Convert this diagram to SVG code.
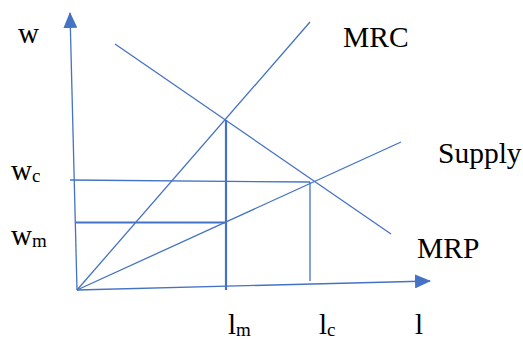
<svg xmlns="http://www.w3.org/2000/svg" width="523" height="339" viewBox="0 0 523 339">
<style>
.ln{stroke:#4472C4;stroke-width:1.3;fill:none}
.thk{stroke:#4472C4;stroke-width:2.2;fill:none}
.t{font-family:"Liberation Serif","Times New Roman",serif;fill:#000}
.big{font-size:29.5px}
.mid{font-size:29px}
.sub{font-size:19px}
</style>
<defs>
<marker id="ah" markerWidth="16" markerHeight="14" refX="15" refY="7" orient="auto" markerUnits="userSpaceOnUse">
<path d="M0,0 L16,7 L0,14 Z" fill="#4472C4"/>
</marker>
</defs>
<rect width="523" height="339" fill="#fff"/>
<g id="connectors">
<line id="y-axis" class="ln" x1="77" y1="290" x2="70" y2="13" marker-end="url(#ah)"/>
<line id="x-axis" class="ln" x1="77" y1="290" x2="430" y2="281" marker-end="url(#ah)"/>
<line id="mrc" class="ln" x1="77" y1="290" x2="310" y2="22"/>
<line id="mrp" class="ln" x1="115" y1="44" x2="391" y2="234"/>
<line id="supply" class="ln" x1="77" y1="290" x2="401" y2="142"/>
<line id="v-lm" class="thk" x1="226" y1="120" x2="226" y2="290"/>
<line id="v-lc" class="ln" x1="310" y1="182" x2="310" y2="281"/>
<line id="h-wc" class="ln" x1="70" y1="180" x2="310" y2="182"/>
<line id="h-wm" class="thk" x1="76" y1="222.5" x2="226" y2="222.5"/>
</g>
<g id="label-w"><text class="t mid" x="18" y="43">w</text></g>
<g id="label-mrc"><text class="t big" x="343" y="47">MRC</text></g>
<g id="label-supply"><text class="t big" x="438" y="163">Supply</text></g>
<g id="label-mrp"><text class="t big" x="417" y="258">MRP</text></g>
<g id="label-wc"><text class="t mid" x="11" y="180">w<tspan class="sub" dy="2">c</tspan></text></g>
<g id="label-wm"><text class="t mid" x="11" y="245">w<tspan class="sub" dy="2">m</tspan></text></g>
<g id="label-lm"><text class="t mid" x="228" y="334">l<tspan class="sub" dy="2">m</tspan></text></g>
<g id="label-lc"><text class="t mid" x="319" y="334">l<tspan class="sub" dy="2">c</tspan></text></g>
<g id="label-l"><text class="t mid" x="415" y="334">l</text></g>
</svg>
